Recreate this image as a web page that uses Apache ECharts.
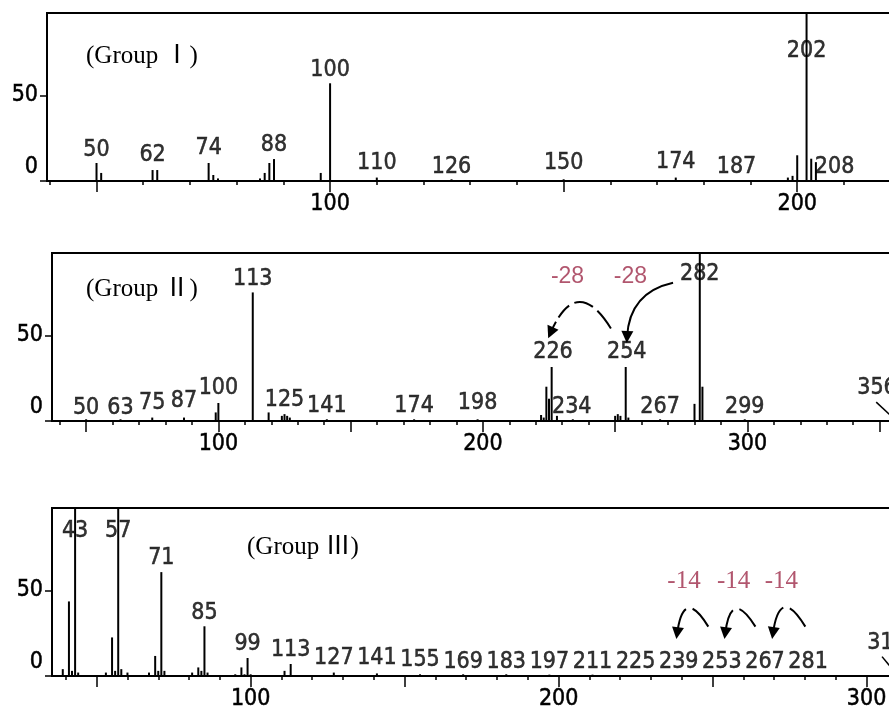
<!DOCTYPE html>
<html><head><meta charset="utf-8">
<script src="https://cdn.jsdelivr.net/npm/echarts@6/dist/echarts.min.js"></script>
<style>html,body{margin:0;padding:0;background:#fff}#c{width:889px;height:708px}</style>
</head><body><div id="c"></div>
<script>
// ---------- Panel 1 (Group I) ----------
const p1Mz  = [50, 51, 62, 63, 74, 75, 76, 85, 86, 87, 88, 98, 100, 110, 126, 150, 174, 198, 199, 200, 202, 203, 204];
const p1Int = [10.5, 4.7, 6.4, 6.4, 10.5, 3.5, 1.5, 1.5, 4.7, 10.5, 12.8, 4.7, 57, 2, 1, 1, 2, 2, 3, 15, 100, 13, 11];
const p1LabelText = ['50', '62', '74', '88', '100', '110', '126', '150', '174', '187', '202', '208'];
const p1LabelMz   = [50, 62, 74, 88, 100, 110, 126, 150, 174, 187, 202, 208];
const p1LabelY    = [18, 15, 19, 21, 65, 10.5, 8, 10.5, 11, 8, 76, 8];
const p1TickLabels = [100, 200];
const p1MajorTicks = [50, 100, 150, 200];

// ---------- Panel 2 (Group II) ----------
const p2Mz  = [50, 63, 75, 87, 99, 100, 113, 119, 124, 125, 126, 127, 141, 174, 198, 222, 223, 224, 225, 226, 228, 234, 250, 251, 252, 254, 255, 267, 280, 282, 283, 299];
const p2Int = [1, 1, 2, 2, 5, 10.5, 75, 5, 3, 4, 3, 2, 1, 1, 1, 3.5, 2, 20, 13, 31.5, 3, 1, 3, 4, 3, 31.5, 2, 1, 10, 100, 20, 1];
const p2LabelText = ['50', '63', '75', '87', '100', '113', '125', '141', '174', '198', '226', '234', '254', '267', '282', '299', '356'];
const p2LabelMz   = [50, 63, 75, 87, 100, 113, 125, 141, 174, 198, 226.5, 233.6, 254.4, 267, 282, 299, 349];
const p2LabelY    = [7.6, 7.6, 10.5, 11.7, 19, 83, 12, 9, 9, 10.5, 40, 8, 40, 8, 86, 8, 19];
const p2AnnoText = ['-28', '-28'];
const p2AnnoMz   = [232, 255.8];
const p2AnnoY    = [84, 84];
const p2TickLabels = [100, 200, 300];
const p2MajorTicks = [50, 100, 150, 200, 250, 300, 350];

// ---------- Panel 3 (Group III) ----------
const p3Mz  = [39, 41, 42, 43, 44, 53, 55, 56, 57, 58, 60, 67, 69, 70, 71, 72, 81, 83, 84, 85, 86, 95, 97, 98, 99, 100, 111, 113, 127, 141, 155, 169, 183, 197, 211, 225, 239, 253, 267, 281];
const p3Int = [4, 43.5, 3, 100, 2, 2, 22.5, 3, 100, 4, 2, 2, 11.7, 3, 60.6, 3, 2, 5, 3, 29, 2, 1, 5, 1, 10.5, 1, 3, 7, 2, 1.5, 1, 1, 1, 0.8, 0.8, 0.6, 0.6, 0.6, 0.5, 0.5];
const p3LabelText = ['43', '57', '71', '85', '99', '113', '127', '141', '155', '169', '183', '197', '211', '225', '239', '253', '267', '281', '315'];
const p3LabelMz   = [43, 57, 71, 85, 99, 113, 127, 141, 155, 169, 183, 197, 211, 225, 239, 253, 267, 281, 306.6];
const p3LabelY    = [84.6, 84.6, 68.8, 36.8, 18.7, 15.2, 10.5, 10.5, 9.3, 8.2, 8.2, 8.2, 8.2, 8.2, 8.2, 8.2, 8.2, 8.2, 19.3];
const p3AnnoText = ['-14', '-14', '-14'];
const p3AnnoMz   = [240.7, 256.8, 272.3];
const p3AnnoY    = [55.4, 55.4, 55.4];
const p3TickLabels = [100, 200, 300];
const p3MajorTicks = [50, 100, 150, 200, 250, 300];

const yTicks = [0, 50];

// ---------- styling ----------
const NUM_FONT = '"Liberation Sans Narrow", "DejaVu Sans Condensed", "Arial Narrow", sans-serif';
const SERIF = '"Liberation Serif", "Noto Sans CJK SC", serif';
const RED = '#9e2c4a';
const numText = { color: '#000', fontFamily: NUM_FONT, fontSize: 23, textBorderColor: '#000', textBorderWidth: 0.5 };

function range(a, b, s) { const r = []; for (let v = a; v <= b; v += s) r.push(v); return r; }

const panels = [
  { mz: p1Mz, it: p1Int, lt: p1LabelText, lm: p1LabelMz, ly: p1LabelY, at: [], am: [], ay: [],
    tickLabels: p1TickLabels, major: p1MajorTicks, minor: range(40, 220, 10),
    xMin: 39.4, xMax: 225, left: 47, top: 13, width: 867, group: '(Group Ⅰ)', gLeft: 86, gTop: 44, annoFont: 'sans',
    arrows: [], leaders: [] },
  { mz: p2Mz, it: p2Int, lt: p2LabelText, lm: p2LabelMz, ly: p2LabelY, at: p2AnnoText, am: p2AnnoMz, ay: p2AnnoY,
    tickLabels: p2TickLabels, major: p2MajorTicks, minor: range(40, 370, 10),
    xMin: 37.1, xMax: 380, left: 52, top: 253, width: 907, group: '(Group Ⅱ)', gLeft: 86, gTop: 277, annoFont: 'sans',
    arrows: [
      { from: [248.4, 54], to: [225.6, 51.5], c: -0.95, type: [22, 6, 20, 6, 16, 5, 200] },
      { from: [271.9, 80.7], to: [254.5, 49], c: -0.38, type: 'solid' }
    ],
    leaders: [ { from: [348.7, 11], to: [356, 0.5] } ] },
  { mz: p3Mz, it: p3Int, lt: p3LabelText, lm: p3LabelMz, ly: p3LabelY, at: p3AnnoText, am: p3AnnoMz, ay: p3AnnoY,
    tickLabels: p3TickLabels, major: p3MajorTicks, minor: range(40, 320, 10),
    xMin: 35.5, xMax: 330, left: 52, top: 508, width: 907, group: '(Group Ⅲ)', gLeft: 247, gTop: 535, annoFont: 'serif',
    arrows: [
      { from: [248.6, 28.8], to: [238.5, 25], c: -1.4, type: [24, 7, 200] },
      { from: [263.9, 28.8], to: [254.1, 25], c: -1.4, type: [24, 7, 200] },
      { from: [280.1, 28.8], to: [269.6, 25], c: -1.4, type: [24, 7, 200] }
    ],
    leaders: [ { from: [305, 11.3], to: [310, 0.5] } ] }
];

const grid = [], xAxis = [], yAxis = [], series = [], title = [];
panels.forEach((p, i) => {
  grid.push({ left: p.left, top: p.top, width: p.width, height: 168, show: true, borderColor: '#000', borderWidth: 2,
    backgroundColor: 'transparent', containLabel: false, outerBoundsMode: 'none' });
  title.push({ text: p.group, left: p.gLeft, top: p.gTop, padding: 0,
    textStyle: { fontFamily: SERIF, fontSize: 25, fontWeight: 'normal', color: '#000' } });
  xAxis.push({ gridIndex: i, type: 'value', min: p.xMin, max: p.xMax, position: 'bottom',
    axisLine: { show: true, onZero: false, lineStyle: { color: '#000', width: 2 } },
    axisTick: { show: true, length: 4, customValues: p.minor, lineStyle: { color: '#000', width: 1.5 } },
    axisLabel: { show: false }, splitLine: { show: false } });
  xAxis.push({ gridIndex: i, type: 'value', min: p.xMin, max: p.xMax, position: 'bottom',
    axisLine: { show: false, onZero: false },
    axisTick: { show: true, length: 11, customValues: p.major, lineStyle: { color: '#000', width: 1.5 } },
    axisLabel: Object.assign({ show: true, customValues: p.tickLabels, margin: 12 }, numText),
    splitLine: { show: false } });
  yAxis.push({ gridIndex: i, type: 'value', min: 0, max: 98,
    axisLine: { show: true, lineStyle: { color: '#000', width: 2 } },
    axisTick: { show: true, length: 7, customValues: yTicks, lineStyle: { color: '#000', width: 1.5 } },
    axisLabel: Object.assign({ show: true, customValues: yTicks, margin: 9,
      formatter: v => v === 0 ? '{z|0}' : '{n|' + v + '}',
      rich: { z: Object.assign({ padding: [0, 0, 27, 0] }, numText), n: Object.assign({}, numText) } }, numText),
    splitLine: { show: false } });

  series.push({ type: 'bar', xAxisIndex: 2 * i, yAxisIndex: i, barWidth: 2, silent: true,
    itemStyle: { color: '#000' }, data: p.mz.map((m, k) => [m, p.it[k]]) });

  series.push({ type: 'scatter', xAxisIndex: 2 * i, yAxisIndex: i, symbolSize: 0, silent: true,
    data: p.lm.map((m, k) => [m, p.ly[k], p.lt[k]]),
    label: Object.assign({ show: true, position: 'inside', formatter: d => d.data[2] }, numText) });

  if (p.arrows.length) {
    series.push({ type: 'lines', coordinateSystem: 'cartesian2d', xAxisIndex: 2 * i, yAxisIndex: i, silent: true,
      symbol: ['none', 'triangle'], symbolSize: 12, clip: false,
      lineStyle: { color: '#000', width: 2, opacity: 1 },
      data: p.arrows.map(a => ({ coords: [a.from, a.to], lineStyle: { curveness: a.c, type: a.type } })) });
  }
  if (p.leaders.length) {
    series.push({ type: 'lines', coordinateSystem: 'cartesian2d', xAxisIndex: 2 * i, yAxisIndex: i, silent: true,
      symbol: 'none', clip: false, lineStyle: { color: '#000', width: 1.5, opacity: 1, curveness: 0 },
      data: p.leaders.map(a => ({ coords: [a.from, a.to] })) });
  }

  if (p.at.length) {
    series.push({ type: 'scatter', xAxisIndex: 2 * i, yAxisIndex: i, symbolSize: 0, silent: true,
      data: p.am.map((m, k) => [m, p.ay[k], p.at[k]]),
      label: { show: true, position: 'inside', formatter: d => d.data[2], color: RED,
        fontFamily: p.annoFont === 'serif' ? '"Liberation Serif", serif' : '"Liberation Sans", sans-serif',
        fontSize: p.annoFont === 'serif' ? 25 : 23 } });
  }
});

const chart = echarts.init(document.getElementById('c'), null, { renderer: 'canvas' });
chart.setOption({ animation: false, backgroundColor: '#fff', title, grid, xAxis, yAxis, series });
</script>
</body></html>
